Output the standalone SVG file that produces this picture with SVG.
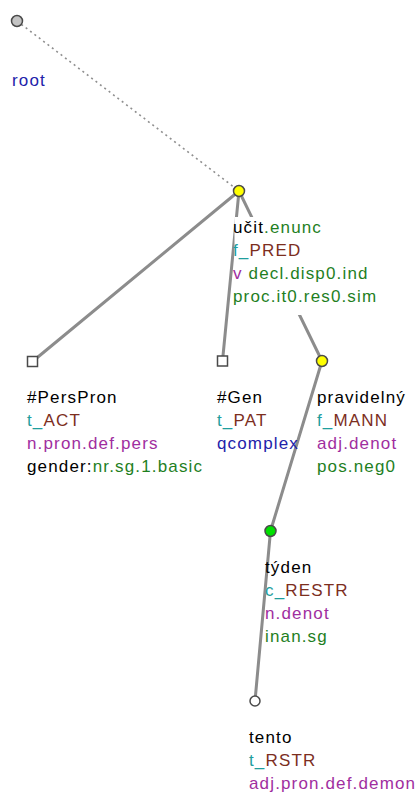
<svg xmlns="http://www.w3.org/2000/svg" width="419" height="796" viewBox="0 0 419 796">
<style>
text{font-family:"Liberation Sans",Arial,sans-serif;font-size:17px;letter-spacing:1.15px;fill:#000}
.edge{stroke:#8c8c8c;stroke-width:3;fill:none;stroke-linecap:round}
.dot{stroke:#8f8f8f;stroke-width:1.6;fill:none;stroke-dasharray:2 3.5}
.nd{stroke:#4a4a4a;stroke-width:1.5}
.bg{fill:#fff}
.k{fill:#000}.g{fill:#1f7f1f}.t{fill:#1f9e9e}.f{fill:#7c2e1e}.p{fill:#a02ea0}.b{fill:#2222aa}
</style>
<g id="connectors">
<line class="dot" x1="17" y1="21" x2="239" y2="191"/>
<line class="edge" x1="239" y1="191" x2="32.5" y2="361.5"/>
<line class="edge" x1="239" y1="191" x2="222.5" y2="361"/>
<line class="edge" x1="239" y1="191" x2="322" y2="361"/>
<line class="edge" x1="322" y1="361" x2="270.5" y2="531"/>
<line class="edge" x1="270.5" y1="531" x2="255" y2="701"/>
</g>
<g id="root">
<circle class="nd" cx="17" cy="21" r="5.5" fill="#c4c4c4"/>
<text x="12" y="86" class="b">root</text>
</g>
<g id="ucit">
<rect class="bg" x="234.5" y="217" width="142" height="98"/>
<circle class="nd" cx="239" cy="191" r="5.5" fill="#ffff00"/>
<text x="233" y="233"><tspan class="k">učit</tspan><tspan class="g">.enunc</tspan></text>
<text x="233" y="256"><tspan class="t">f_</tspan><tspan class="f">PRED</tspan></text>
<text x="233" y="279"><tspan class="p">v</tspan><tspan class="g"> decl.disp0.ind</tspan></text>
<text x="233" y="302" class="g">proc.it0.res0.sim</text>
</g>
<g id="perspron">
<rect class="nd" x="27.5" y="356.5" width="10" height="10" fill="#fff"/>
<text x="27" y="403" class="k">#PersPron</text>
<text x="27" y="426"><tspan class="t">t_</tspan><tspan class="f">ACT</tspan></text>
<text x="27" y="449" class="p">n.pron.def.pers</text>
<text x="27" y="472"><tspan class="k">gender:</tspan><tspan class="g">nr.sg.1.basic</tspan></text>
</g>
<g id="gen">
<rect class="nd" x="217.5" y="356" width="10" height="10" fill="#fff"/>
<text x="217" y="403" class="k">#Gen</text>
<text x="217" y="426"><tspan class="t">t_</tspan><tspan class="f">PAT</tspan></text>
<text x="217" y="449" class="b">qcomplex</text>
</g>
<g id="pravidelny">
<circle class="nd" cx="322" cy="361" r="5.5" fill="#ffff00"/>
<text x="317" y="403" class="k">pravidelný</text>
<text x="317" y="426"><tspan class="t">f_</tspan><tspan class="f">MANN</tspan></text>
<text x="317" y="449" class="p">adj.denot</text>
<text x="317" y="472" class="g">pos.neg0</text>
</g>
<g id="tyden">
<circle class="nd" cx="270.5" cy="531" r="5.5" fill="#00e000"/>
<text x="265" y="573" class="k">týden</text>
<text x="265" y="596"><tspan class="t">c_</tspan><tspan class="f">RESTR</tspan></text>
<text x="265" y="619" class="p">n.denot</text>
<text x="265" y="642" class="g">inan.sg</text>
</g>
<g id="tento">
<circle class="nd" cx="255" cy="701" r="5" fill="#fff"/>
<text x="249" y="743" class="k">tento</text>
<text x="249" y="766"><tspan class="t">t_</tspan><tspan class="f">RSTR</tspan></text>
<text x="249" y="789" class="p">adj.pron.def.demon</text>
</g>
</svg>
